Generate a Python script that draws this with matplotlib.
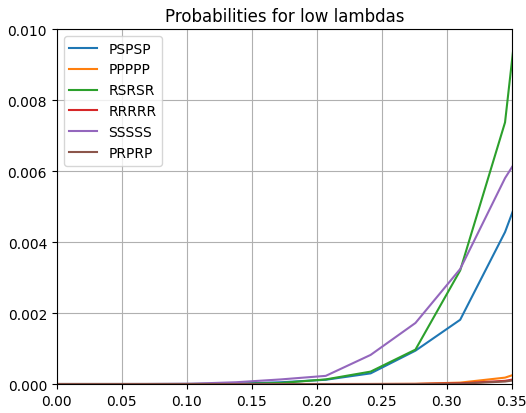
import matplotlib
matplotlib.use('Agg')
import matplotlib.pyplot as plt

# lambda grid (steps of 1/29)
lambdas = [0.0, 0.0345, 0.0690, 0.1034, 0.1379, 0.1724, 0.2069, 0.2414, 0.2759, 0.3103, 0.3448, 0.3793]

pspsp = [0, 0, 0, 0.000002, 0.00001, 0.00005, 0.00012, 0.00030, 0.00094, 0.00181, 0.00428, 0.00766]
ppppp = [0, 0, 0, 0, 0, 0, 0, 0.000001, 0.000005, 0.00004, 0.00018, 0.00060]
rsrsr = [0, 0, 0, 0, 0.000003, 0.00003, 0.00013, 0.00035, 0.00097, 0.00320, 0.00737, 0.0186]
rrrrr = [0, 0, 0, 0, 0, 0, 0, 0, 0.000002, 0.00002, 0.00009, 0.00030]
sssss = [0, 0, 0.000001, 0.000008, 0.00005, 0.00013, 0.00023, 0.00082, 0.00172, 0.00324, 0.00580, 0.00780]
prprp = [0, 0, 0, 0, 0, 0, 0, 0, 0.000001, 0.00001, 0.00007, 0.00025]

labels = ["PSPSP", "PPPPP", "RSRSR", "RRRRR", "SSSSS", "PRPRP"]
series = [pspsp, ppppp, rsrsr, rrrrr, sssss, prprp]

fig = plt.figure(figsize=(5.26, 4.14), dpi=100)
ax = fig.add_axes([0.108, 0.07, 0.865, 0.8575])
for lab, ys in zip(labels, series):
    ax.plot(lambdas, ys, label=lab)

ax.set_xlim(0, 0.35)
ax.set_ylim(0, 0.01)
ax.grid(True)
ax.legend(loc="upper left")
ax.set_title("Probabilities for low lambdas")

fig.savefig("out.png", dpi=100)
